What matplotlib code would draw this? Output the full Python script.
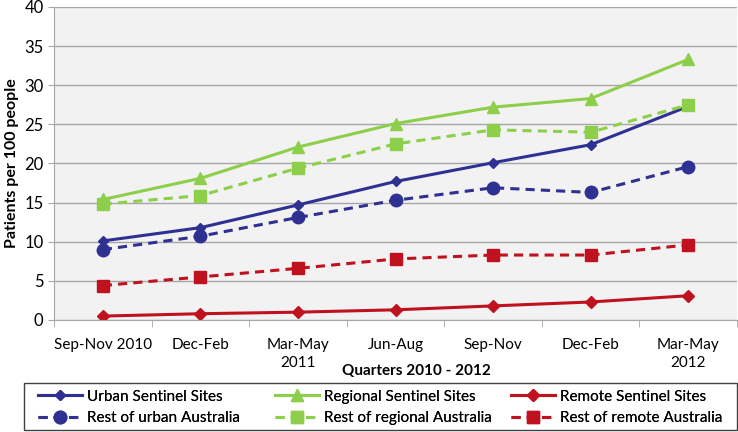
import matplotlib
matplotlib.use('Agg')
import matplotlib.pyplot as plt
from matplotlib.patches import Rectangle
import numpy as np

plt.rcParams['font.family'] = ['Lato', 'DejaVu Sans']

# Data
quarters = ['Sep-Nov 2010', 'Dec-Feb', 'Mar-May\n2011', 'Jun-Aug', 'Sep-Nov', 'Dec-Feb', 'Mar-May\n2012']
urban_sentinel = [10.1, 11.8, 14.7, 17.7, 20.1, 22.4, 27.3]
regional_sentinel = [15.4, 18.1, 22.1, 25.1, 27.2, 28.3, 33.3]
remote_sentinel = [0.5, 0.8, 1.0, 1.3, 1.8, 2.3, 3.1]
rest_urban = [9.0, 10.7, 13.1, 15.3, 16.9, 16.3, 19.6]
rest_regional = [14.8, 15.9, 19.4, 22.5, 24.3, 24.0, 27.5]
rest_remote = [4.4, 5.5, 6.6, 7.8, 8.3, 8.3, 9.6]

blue = '#2E3192'
green = '#8DCF4A'
red = '#C0111F'

fig = plt.figure(figsize=(7.38, 4.32), dpi=100)
ax = fig.add_axes([0.0732, 0.2593, 0.9255, 0.7245])
ax.set_facecolor('#F2F2F2')

x = np.arange(len(quarters))

series = [
    (urban_sentinel, 'Urban Sentinel Sites', blue, '-', 'D', 5),
    (rest_urban, 'Rest of urban Australia', blue, '--', 'o', 9),
    (regional_sentinel, 'Regional Sentinel Sites', green, '-', '^', 9),
    (rest_regional, 'Rest of regional Australia', green, '--', 's', 9),
    (remote_sentinel, 'Remote Sentinel Sites', red, '-', 'D', 6),
    (rest_remote, 'Rest of remote Australia', red, '--', 's', 9),
]
lines = []
for vals, label, col, ls, mk, ms in series:
    ln, = ax.plot(x, vals, color=col, linestyle=ls, linewidth=2.2, marker=mk,
                  markersize=ms, label=label, dashes=(3, 2) if ls == '--' else (None, None))
    lines.append(ln)

ax.set_xlim(-0.5, len(quarters) - 0.5)
ax.set_ylim(0, 40)
ax.set_yticks(range(0, 41, 5))
ax.set_xticks(x)
ax.set_xticklabels(quarters, fontsize=11, linespacing=1.35)
ax.set_xticks(np.arange(-0.5, len(quarters), 1), minor=True)
ax.tick_params(axis='x', which='major', length=0, pad=13)
ax.tick_params(axis='x', which='minor', length=5, color='#A6A6A6')
ax.tick_params(axis='y', length=4, color='#A6A6A6', labelsize=12)
ax.yaxis.grid(True, color='#A6A6A6', linewidth=1)
ax.set_axisbelow(True)
for side in ['top', 'right']:
    ax.spines[side].set_visible(False)
ax.spines['left'].set_color('#A6A6A6')
ax.spines['bottom'].set_color('#A6A6A6')

ax.set_ylabel('Patients per 100 people', fontsize=11.5, fontweight='bold', labelpad=4)
ax.set_xlabel('Quarters 2010 - 2012', fontsize=11, fontweight='bold')
ax.xaxis.set_label_coords(0.531, -0.14)

# legend: three columns of two entries inside one box
fig.add_artist(Rectangle((0.0325, 0.0046), 0.9655, 0.1088, transform=fig.transFigure,
                         fill=False, edgecolor='#404040', linewidth=1))
for i, xpos in enumerate([38, 275, 511]):
    leg = fig.legend(handles=lines[2 * i:2 * i + 2], loc='center left',
                     bbox_to_anchor=(xpos / 738, 0.0567), fontsize=11, frameon=False,
                     handlelength=2.9, handletextpad=0.3, borderpad=0,
                     borderaxespad=0, labelspacing=0.5)
    fig.add_artist(leg)

fig.savefig('out.png', dpi=100)
